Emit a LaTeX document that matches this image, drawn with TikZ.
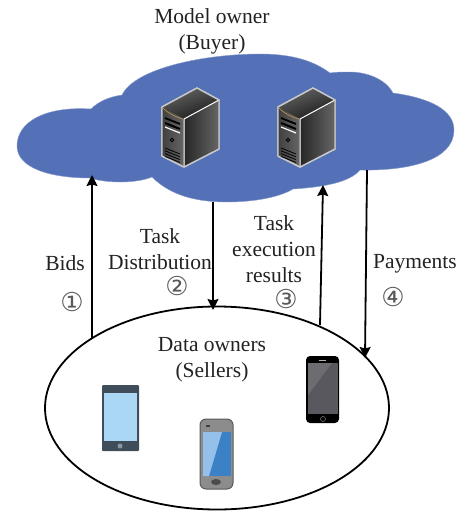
\documentclass[tikz,border=0pt]{standalone}
\usepackage{fontspec}
\setmainfont{Liberation Serif}
\newfontfamily\circfont{DejaVu Sans}
\usepackage{xcolor}
\usetikzlibrary{arrows.meta,shapes.geometric}
\definecolor{cloudblue}{HTML}{5470B6}
\definecolor{textgray}{HTML}{222222}
\definecolor{rimgray}{HTML}{C8C8C8}
\definecolor{slate}{HTML}{3F4C5A}
\definecolor{skyblue}{HTML}{AAD8F4}
\definecolor{screenlight}{HTML}{94C0EA}
\definecolor{screendark}{HTML}{3C80C6}
\definecolor{screengray}{HTML}{59585E}

\begin{document}
\begin{tikzpicture}[x=1pt,y=-1pt,>={Stealth[length=11pt,width=11pt,inset=1.5pt]},semithick,
  label/.style={text=textgray,font=\fontsize{21.5}{26}\selectfont,align=center,inner sep=0pt},
  num/.style={text=textgray!75,font=\fontsize{26}{26}\selectfont\circfont,inner sep=0pt},
  link/.style={->,line width=1.8pt},
  server/.pic={
    \path[fill=black!85,draw=rimgray,line width=1.4pt,line join=round] (0,0) -- (35,-19) -- (57,-7) -- (57,42) -- (22,60) -- (0,49) -- cycle;
    \path[top color=black!60,bottom color=black!90,shading angle=20] (0,0) -- (35,-19) -- (57,-7) -- (22,12) -- cycle;
    \path[left color=black!85,right color=black!60] (22,12) -- (57,-7) -- (57,42) -- (22,60) -- cycle;
    \path[left color=black!75,right color=black!60] (0,0) -- (22,12) -- (22,60) -- (0,49) -- cycle;
    \draw[white,line width=1pt] (57,-7) -- (22,12) -- (22,60);
    \draw[rimgray,line width=1.4pt,line join=round] (0,0) -- (35,-19) -- (57,-7) -- (57,42) -- (22,60) -- (0,49) -- cycle;
    \draw[color={rgb,255:red,170;green,140;blue,80},line width=.8pt] (1,1) .. controls (7,7) and (14,10) .. (21,12);
    \draw[black,line width=1.8pt] (3,11) -- (18,17);
    \draw[black,line width=2pt] (3,16) -- (18,22);
    \draw[white,line width=1.2pt] (3,20) -- (18,26);
    \draw[black,line width=.8pt] (10,33) circle (1.8);
    \foreach \i in {0,1,2,3}
      \draw[black,line width=.8pt] (3,41+2.8*\i) -- (18,47+2.8*\i);
  }]
\useasboundingbox (0,0) rectangle (460,512);

% cloud
\fill[cloudblue,draw=cloudblue!70!white,thin] (91,109) .. controls (45,106) and (17,122) .. (17,146)
  .. controls (17,168) and (50,178) .. (90,178)
  .. controls (105,183) and (135,184) .. (152,177)
  .. controls (170,195) and (195,202) .. (227,202)
  .. controls (255,202) and (280,197) .. (293,189)
  .. controls (325,187) and (350,182) .. (360,170)
  .. controls (410,171) and (454,160) .. (454,130)
  .. controls (454,110) and (430,98) .. (393,93)
  .. controls (385,78) and (365,72) .. (350,72)
  .. controls (343,72) and (335,72) .. (330,73)
  .. controls (310,58) and (285,54) .. (260,54)
  .. controls (205,54) and (135,68) .. (122,95)
  .. controls (108,97) and (98,102) .. (91,109) -- cycle;

\pic at (162,107) {server};
\pic at (278,107) {server};

\node[label] (buyer) at (212,31) {Model owner\\(Buyer)};
\node[draw=black,line width=1.8pt,ellipse,minimum width=344pt,minimum height=203pt,inner sep=0pt] (sellers) at (217,408) {};
\node[label] (sellerstxt) at (212,359.5) {Data owners\\(Sellers)};

% tablet
\node[fill=slate,rounded corners=1pt,minimum width=37pt,minimum height=66pt,inner sep=0pt] (tablet) at (120.5,418) {};
\node[fill=skyblue,minimum width=33pt,minimum height=48pt,inner sep=0pt] (tabletscreen) at (120.5,417) {};
\fill[slate!60!white] (120,446) circle (2.5);

% middle phone
\node[draw=black!65,fill=black!45,line width=1pt,rounded corners=6pt,minimum width=33pt,minimum height=70pt,inner sep=0pt] (phone) at (216.5,454) {};
\node[fill=screendark,minimum width=28pt,minimum height=44pt,inner sep=0pt] (phonescreen) at (217,454) {};
\fill[screenlight] (203,432) -- (222,432) -- (209,476) -- (203,476) -- cycle;
\fill[black!75] (206,424.5) rectangle (210,426.5);
\fill[black!70] (216,482) ellipse (5 and 3);

% black phone
\node[fill=black,rounded corners=4pt,minimum width=33pt,minimum height=67pt,inner sep=0pt] (iphone) at (322.5,389.5) {};
\node[fill=screengray,minimum width=30pt,minimum height=51pt,inner sep=0pt] (iphonescreen) at (323,388.5) {};
\fill[white,opacity=.12] (308,363) -- (332,363) -- (308,395) -- cycle;
\fill[black!30] (319,359.5) rectangle (326,360.5);
\draw[black!40,thin] (323,419) circle (2.5);

\coordinate (bidsA) at (92,338);
\coordinate (bidsB) at (92,175);
\coordinate (taskA) at (213,202);
\coordinate (taskB) at (213,310);
\coordinate (resA) at (320,325);
\coordinate (resB) at (323,185);
\coordinate (payA) at (367,170);
\coordinate (payB) at (365,358);

\draw[link] (bidsA) -- (bidsB);
\draw[link] (taskA) -- (taskB);
\draw[link] (resA) -- (resB);
\draw[link] (payA) -- (payB);

\node[label] (bids) at (65,263) {Bids};
\node[label] (dist) at (160,249) {Task\\Distribution};
\node[label] (res) at (274,249) {Task\\execution\\results};
\node[label] (pay) at (415,263.5) {Payments};

\node[num] (n1) at (72,302) {①};
\node[num] (n2) at (177,286) {②};
\node[num] (n3) at (286,299) {③};
\node[num] (n4) at (393,297) {④};
\end{tikzpicture}
\end{document}
